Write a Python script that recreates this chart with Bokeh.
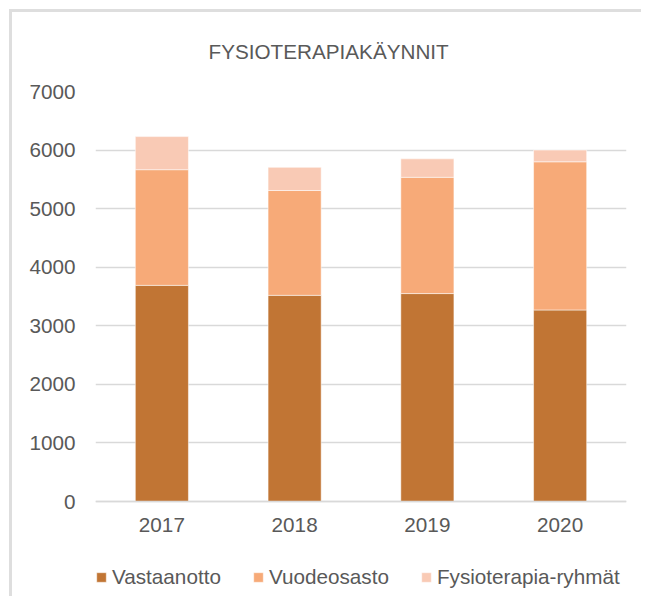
from bokeh.plotting import figure
from bokeh.models import Legend, LegendItem, Title, FactorRange, Range1d, FixedTicker
from bokeh.embed import file_html
from bokeh.resources import INLINE

years = ["2017", "2018", "2019", "2020"]
vastaanotto = [3690, 3520, 3550, 3270]
vuodeosasto = [1975, 1790, 1985, 2530]
ryhmat = [565, 395, 315, 200]
series = ["Vastaanotto", "Vuodeosasto", "Fysioterapia-ryhmät"]
colors = ["#C17534", "#F7AA78", "#F9CAB5"]
title_text = "FYSIOTERAPIAKÄYNNIT"
y_ticks = [0, 1000, 2000, 3000, 4000, 5000, 6000, 7000]

FONT = "Liberation Sans"
TXT = "#595959"
FS = "20.7px"

data = {"years": years, "Vastaanotto": vastaanotto, "Vuodeosasto": vuodeosasto,
        "Fysioterapia-ryhmät": ryhmat}

# plot area 410 px tall for 0..7000, extended downward by 95 px to hold the axis labels and legend
y_top = y_ticks[-1]
y_bottom = -y_top * 95 / 410

p = figure(x_range=FactorRange(*years), y_range=Range1d(y_bottom, y_top),
           frame_width=531, frame_height=505,
           min_border_left=86, min_border_right=15, min_border_top=0, min_border_bottom=0,
           output_backend="svg", toolbar_location=None, title=None,
           styles={"box-shadow": "inset 3px 3px 0 0 #dedede",
                   "margin-left": "9px", "margin-top": "9px"})

rs = p.vbar_stack(series, x="years", width=0.4, source=data, fill_color=colors,
                  line_color="white", line_alpha=0.5, line_width=1)

p.outline_line_color = None
p.background_fill_color = "white"
p.border_fill_alpha = 0
p.xgrid.grid_line_color = None
p.ygrid.grid_line_color = "#D9D9D9"
p.ygrid.grid_line_width = 1.5
p.yaxis.ticker = FixedTicker(ticks=y_ticks)
p.ygrid.ticker = FixedTicker(ticks=y_ticks)
p.yaxis.axis_line_color = None
p.yaxis.major_tick_line_color = None
p.yaxis.minor_tick_line_color = None
p.yaxis.major_tick_out = 0
p.yaxis.major_label_standoff = 20
p.xaxis.fixed_location = 0
p.xaxis.axis_line_color = "#D9D9D9"
p.xaxis.axis_line_width = 1.5
p.xaxis.major_tick_line_color = None
p.xaxis.major_tick_out = 0
p.xaxis.major_label_standoff = 16
for ax in (p.xaxis, p.yaxis):
    ax.major_label_text_font = FONT
    ax.major_label_text_font_size = FS
    ax.major_label_text_color = TXT

title = Title(text=title_text, align="left", offset=113, standoff=57,
              text_font=FONT, text_font_size=FS, text_color=TXT, text_font_style="normal")
p.add_layout(title, "above")

legend = Legend(items=[LegendItem(label=s, renderers=[r]) for s, r in zip(series, rs)],
                orientation="horizontal", location=(0, 7),
                glyph_width=12, glyph_height=12, label_standoff=5, spacing=31,
                padding=0, margin=0, border_line_color=None, background_fill_alpha=0,
                label_text_font=FONT, label_text_font_size=FS, label_text_color=TXT)
p.add_layout(legend, "center")

open("out.html", "w").write(file_html(p, INLINE))
